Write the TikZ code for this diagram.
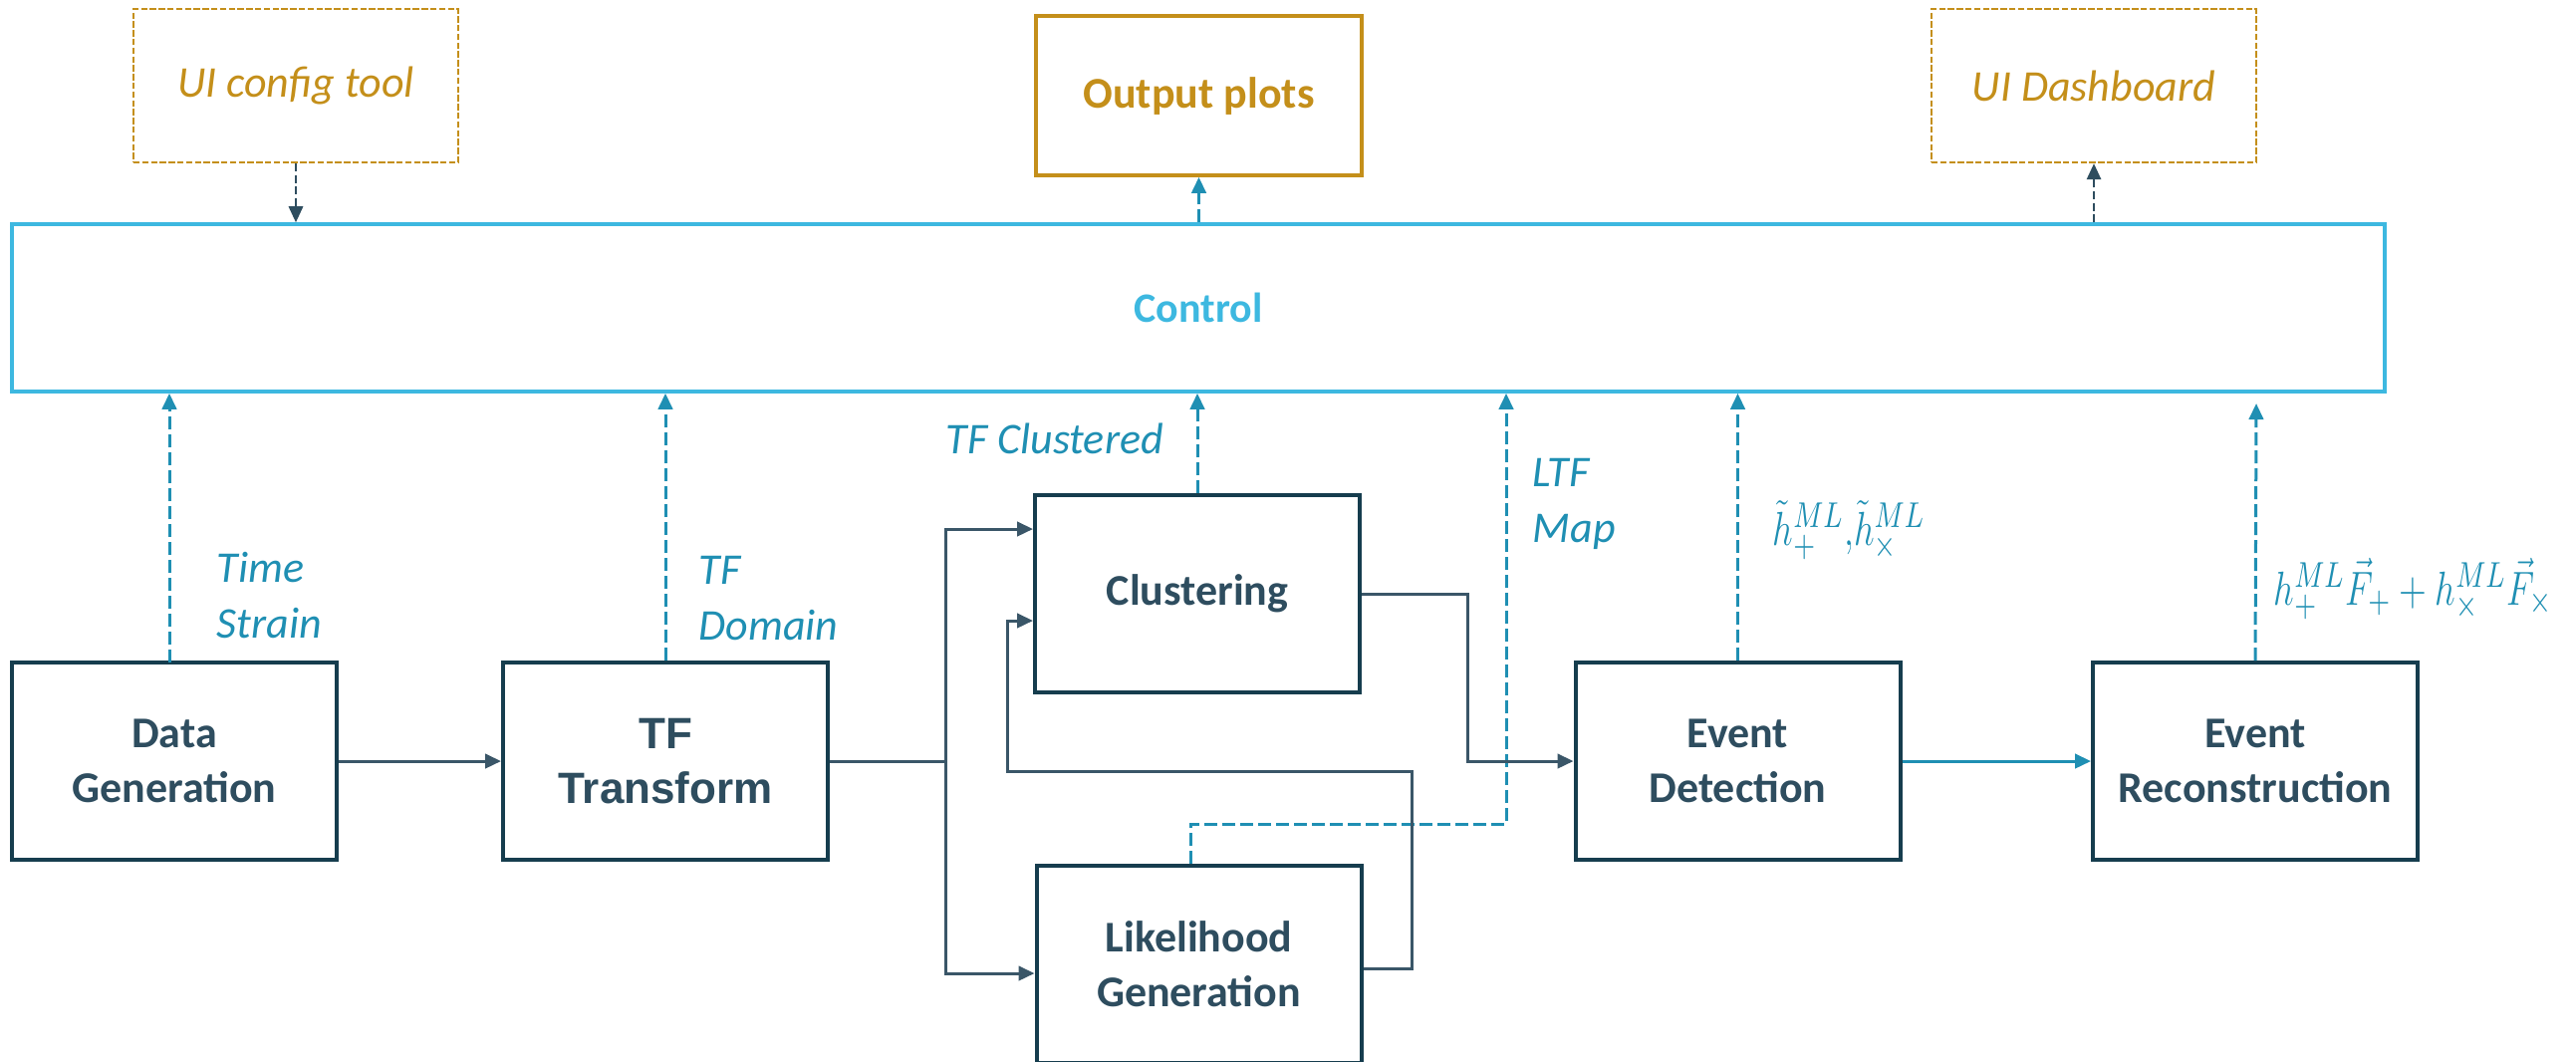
\documentclass[tikz,border=0pt]{standalone}
\usepackage{fontspec}
\usepackage{graphicx}
\setmainfont{Carlito}
\newfontfamily\arialfont{Liberation Sans}
\usetikzlibrary{arrows.meta,calc}
\definecolor{boxline}{HTML}{163D4E}
\definecolor{textdark}{HTML}{2E4D5F}
\definecolor{connc}{HTML}{3A5668}
\definecolor{flow}{HTML}{1F8FB3}
\definecolor{gold}{HTML}{C48F1A}
\definecolor{ctrlblue}{HTML}{3DB8E0}
\begin{document}
\begin{tikzpicture}[x=0.25pt,y=-0.25pt,
  stagebox/.style={draw=boxline,line width=1pt,text=textdark,font=\bfseries\fontsize{11}{13.75}\selectfont,align=center,inner sep=0pt,minimum width=81.5pt,minimum height=49.5pt},
  uibox/.style={draw=gold,line width=0.6pt,dash pattern=on 1.6pt off 0.6pt,text=gold,font=\itshape\fontsize{11}{14}\selectfont,inner sep=0pt,minimum width=81.5pt,minimum height=38.5pt},
  lbl/.style={text=flow,font=\itshape\fontsize{11}{14}\selectfont,align=left,inner sep=0pt,anchor=base west},
  mlbl/.style={text=flow,font=\fontsize{12.5}{14}\selectfont,inner sep=0pt,anchor=base west},
  tip/.style={-{Triangle[length=4pt,width=3.6pt]}},
  solidc/.style={draw=connc,line width=0.75pt},
  solida/.style={solidc,tip,color=connc},
  bluedash/.style={draw=flow,line width=0.75pt,dash pattern=on 3.2pt off 1.3pt,tip,color=flow},
  darkdash/.style={draw=textdark,line width=0.45pt,dash pattern=on 2pt off 0.9pt,tip,color=textdark}
]
\useasboundingbox (0,0) rectangle (2586,1065);
\clip (0,0) rectangle (2586,1065);

% top row
\node[uibox] (uicfg) at (297,86) {UI config tool};
\node[draw=gold,line width=0.9pt,text=gold,font=\bfseries\fontsize{11}{14}\selectfont,inner sep=0pt,minimum width=81.75pt,minimum height=40pt] (outp) at (1203.5,96) {Output plots};
\node[uibox] (uidash) at (2102,86) {UI Dashboard};

% control
\node[draw=ctrlblue,line width=0.9pt,text=ctrlblue,font=\bfseries\fontsize{10.5}{13}\selectfont,inner sep=0pt,minimum width=595.5pt,minimum height=42pt] (ctrl) at (1203,309) {Control};

% stages
\node[stagebox] (dg) at (175,764) {Data\\Generation};
\node[stagebox,font=\arialfont\bfseries\fontsize{11}{13.75}\selectfont] (tf) at (668,764) {TF\\Transform};
\node[stagebox] (cl) at (1202,596) {Clustering};
\node[stagebox] (lg) at (1203.5,968) {Likelihood\\Generation};
\node[stagebox] (ed) at (1744.5,764) {Event\\Detection};
\node[stagebox] (er) at (2264,764) {Event\\Reconstruction};

% coordinates
\coordinate (br) at (949,764);
\coordinate (brT) at (949,531);
\coordinate (brB) at (949,977);
\coordinate (fb1) at (1417,972);
\coordinate (fb2) at (1417,774);
\coordinate (fb3) at (1011,774);
\coordinate (fb4) at (1011,623);
\coordinate (co1) at (1473,596);
\coordinate (ltf) at (1512,827);
\coordinate (erend) at (2265,405);
\coordinate (dgtop) at (170,665);

% top connectors
\draw[darkdash] (uicfg.south) -- (uicfg.south |- ctrl.north);
\draw[bluedash] (outp.south |- ctrl.north) -- (outp.south);
\draw[darkdash] (uidash.south |- ctrl.north) -- (uidash.south);

% upward dashed outputs
\draw[bluedash] (dgtop) -- (dgtop |- ctrl.south);
\draw[bluedash] (tf.north) -- (tf.north |- ctrl.south);
\draw[bluedash] (cl.north) -- (cl.north |- ctrl.south);
\draw[bluedash] ([xshift=-2.1pt]lg.north) |- (ltf) -- (ltf |- ctrl.south);
\draw[bluedash] (ed.north) -- (ed.north |- ctrl.south);
\draw[bluedash] (er.north) -- (erend);

% main flow
\draw[solida] (dg.east) -- (tf.west);
\draw[solidc] (tf.east) -- (br);
\draw[solida] (br) -- (brT) -- (brT -| cl.west);
\draw[solida] (br) -- (brB) -- (brB -| lg.west);
\draw[solida] (fb1 -| lg.east) -- (fb1) -- (fb2) -- (fb3) -- (fb4) -- (fb4 -| cl.west);
\draw[solida] (cl.east) -- (co1) -- (co1 |- ed.west) -- (ed.west);
\draw[draw=flow,line width=0.75pt,tip,color=flow] (ed.east) -- (er.west);

% labels
\node[lbl] (l1) at (217,640) {Time\\Strain};
\node[lbl] (l2) at (701,642) {TF\\Domain};
\node[lbl] (l3) at (949,455) {TF Clustered};
\node[lbl] (l4) at (1538,544) {LTF\\Map};
\node[mlbl] (l5) at (1779,547) {\scalebox{0.76}[1]{$\tilde{h}_{+}^{ML}{,}\tilde{h}_{\times}^{ML}$}};
\node[mlbl] (l6) at (2282,607) {\scalebox{0.76}[1]{$h_{+}^{ML}\vec{F}_{+}+h_{\times}^{ML}\vec{F}_{\times}$}};
\end{tikzpicture}
\end{document}
